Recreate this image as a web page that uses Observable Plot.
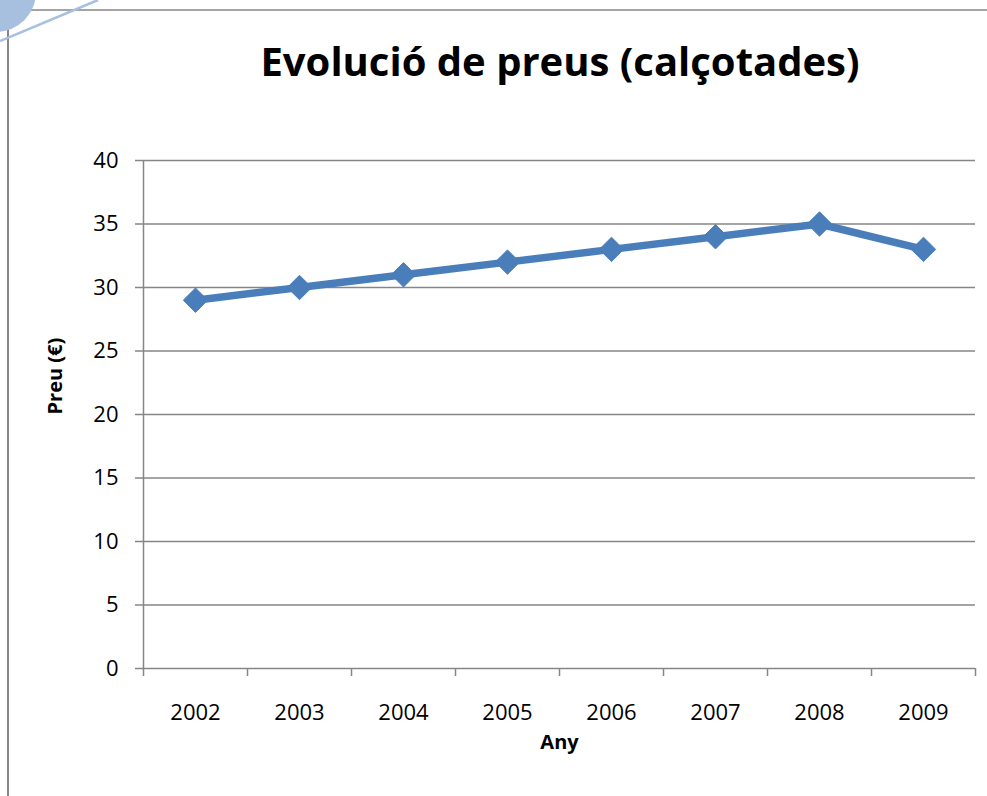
<!DOCTYPE html>
<html><head><meta charset="utf-8">
<script src="https://cdn.jsdelivr.net/npm/d3@7"></script>
<script src="https://cdn.jsdelivr.net/npm/@observablehq/plot@0.6"></script>
<style>
body{margin:0;background:#fff;font-family:"Open Sans",sans-serif;}
#wrap{position:relative;width:987px;height:796px;overflow:hidden;background:#fff;}
#deco{position:absolute;left:0;top:0;}
#title{position:absolute;left:130px;top:0;width:860px;height:122px;line-height:122px;text-align:center;font-size:40px;font-weight:700;color:#000;}
#chart{position:absolute;left:0;top:110px;}
</style>
</head><body>
<div id="wrap">
<svg id="deco" width="987" height="796">
  <line x1="8" y1="10" x2="987" y2="10" stroke="#868686" stroke-width="1.5"/>
  <line x1="8" y1="10" x2="8" y2="796" stroke="#868686" stroke-width="2"/>
  <circle cx="-4" cy="-8" r="40" fill="#a7c0e0"/>
  <line x1="0" y1="41" x2="98" y2="0" stroke="#a7c0e0" stroke-width="2.5"/>
</svg>
<div id="title">Evolució de preus (calçotades)</div>
<div id="chart"></div>
</div>
<script>
const years = [2002, 2003, 2004, 2005, 2006, 2007, 2008, 2009];
const prices = [29, 30, 31, 32, 33, 34, 35, 33];
const yTicks = [0, 5, 10, 15, 20, 25, 30, 35, 40];
const xBoundaries = [2001.5, 2002.5, 2003.5, 2004.5, 2005.5, 2006.5, 2007.5, 2008.5, 2009.5];
const xLabel = "Any";
const yLabel = "Preu (€)";

const data = years.map((y, i) => ({year: y, price: prices[i]}));
const grey = "#868686";
const blue = "#4a7ebb";

const chart = Plot.plot({
  width: 987,
  height: 686,
  marginTop: 50,
  marginBottom: 128,
  marginLeft: 143,
  marginRight: 12,
  style: {fontFamily: "'Open Sans', sans-serif", fontSize: "22px", color: "#000", background: "transparent"},
  x: {type: "linear", domain: [2001.5, 2009.5]},
  y: {domain: [0, 40]},
  marks: [
    Plot.gridY(yTicks, {stroke: grey, strokeOpacity: 1, strokeWidth: 1.5}),
    Plot.axisY({ticks: yTicks, tickSize: 8, tickPadding: 17, stroke: grey, strokeWidth: 1.5, label: null, fontSize: 22}),
    Plot.ruleX([2001.5], {y1: 0, y2: 40, stroke: grey, strokeWidth: 1.5}),
    Plot.axisX({ticks: xBoundaries, tickSize: 8, tickFormat: () => "", stroke: grey, strokeWidth: 1.5, label: null}),
    Plot.axisX({ticks: years, tickSize: 0, tickPadding: 36, tickFormat: d => String(d), label: null, fontSize: 22}),
    Plot.line(data, {x: "year", y: "price", stroke: blue, strokeWidth: 7.5, strokeLinejoin: "round"}),
    Plot.dot(data, {x: "year", y: "price", symbol: "diamond2", r: 11, fill: blue, stroke: blue, strokeWidth: 1, strokeLinejoin: "round", style: "filter: drop-shadow(0 2px 2px rgba(0,0,0,0.15))"}),
    Plot.text([xLabel], {frameAnchor: "bottom", dy: 80, fontWeight: "bold", fontSize: 20}),
    Plot.text([yLabel], {frameAnchor: "left", dx: -88, rotate: -90, fontWeight: "bold", fontSize: 20})
  ]
});
document.getElementById("chart").appendChild(chart);
</script>
</body></html>
